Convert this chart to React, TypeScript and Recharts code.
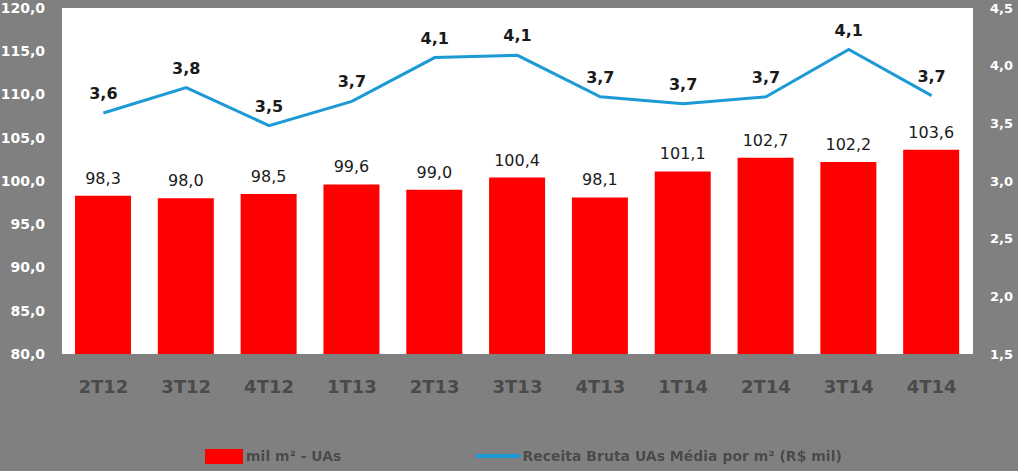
import React from "react";
import {
  ComposedChart,
  Bar,
  Line,
  XAxis,
  YAxis,
  CartesianGrid,
  Legend,
  LabelList,
} from "recharts";

const quarters = ["2T12", "3T12", "4T12", "1T13", "2T13", "3T13", "4T13", "1T14", "2T14", "3T14", "4T14"];
const areaUAs = [98.3, 98.0, 98.5, 99.6, 99.0, 100.4, 98.1, 101.1, 102.7, 102.2, 103.6];
const receitaMedia = [3.59, 3.81, 3.48, 3.69, 4.07, 4.09, 3.73, 3.67, 3.73, 4.14, 3.74];
const leftTicks = [80, 85, 90, 95, 100, 105, 110, 115, 120];
const rightTicks = [1.5, 2.0, 2.5, 3.0, 3.5, 4.0, 4.5];

const data = quarters.map((q, i) => ({
  q,
  area: areaUAs[i],
  receita: receitaMedia[i],
}));

const fmt = (v: any) => Number(v).toFixed(1).replace(".", ",");

const FONT = "'DejaVu Sans', Verdana, sans-serif";

function LegendBox() {
  const txt: React.CSSProperties = {
    fontFamily: FONT,
    fontWeight: "bold",
    fontSize: 14,
    color: "#4a4a4a",
  };
  return (
    <div style={{ display: "flex", alignItems: "center", justifyContent: "flex-start" }}>
      <span style={{ marginLeft: 205, width: 38, height: 15, background: "#ff0000", display: "inline-block" }} />
      <span style={{ ...txt, marginLeft: 3 }}>mil m² - UAs</span>
      <span style={{ marginLeft: 135, width: 44, height: 4, background: "#1b9ad6", display: "inline-block" }} />
      <span style={{ ...txt, marginLeft: 2 }}>Receita Bruta UAs Média por m² (R$ mil)</span>
    </div>
  );
}

export default function App() {
  return (
    <div style={{ position: "fixed", left: 0, top: 0, width: 1018, height: 471, background: "#808080" }}>
      <ComposedChart
        width={1018}
        height={471}
        data={data}
        margin={{ top: 8, right: 0, bottom: 0, left: 0 }}
        barSize={56}
      >
        <CartesianGrid fill="#ffffff" stroke="none" vertical={false} horizontal={false} />
        <XAxis
          dataKey="q"
          axisLine={false}
          tickLine={false}
          height={67}
          tickMargin={20}
          tick={{ fill: "#4a4a4a", fontSize: 18, fontWeight: "bold", fontFamily: FONT }}
        />
        <YAxis
          yAxisId="left"
          domain={[80, 120]}
          ticks={leftTicks}
          width={62}
          axisLine={false}
          tickLine={false}
          tickMargin={11}
          tickFormatter={fmt}
          tick={{ fill: "#ffffff", fontSize: 14, fontWeight: "bold", fontFamily: FONT }}
        />
        <YAxis
          yAxisId="right"
          orientation="right"
          domain={[1.5, 4.5]}
          ticks={rightTicks}
          width={45}
          axisLine={false}
          tickLine={false}
          tickMargin={11}
          tickFormatter={fmt}
          tick={{ fill: "#ffffff", fontSize: 13, fontWeight: "bold", fontFamily: FONT }}
        />
        <Legend
          verticalAlign="bottom"
          height={50}
          content={() => <LegendBox />}
          wrapperStyle={{ left: 0, top: 448, bottom: "auto", width: 1018 }}
        />
        <Bar yAxisId="left" dataKey="area" fill="#ff0000" isAnimationActive={false}>
          <LabelList
            dataKey="area"
            position="top"
            offset={12}
            formatter={fmt}
            style={{ fill: "#1a1a1a", fontSize: 16, fontFamily: FONT }}
          />
        </Bar>
        <Line
          yAxisId="right"
          dataKey="receita"
          stroke="#1b9ad6"
          strokeWidth={3}
          dot={false}
          isAnimationActive={false}
        >
          <LabelList
            dataKey="receita"
            position="top"
            offset={14}
            formatter={fmt}
            style={{ fill: "#1a1a1a", fontSize: 16, fontWeight: "bold", fontFamily: FONT }}
          />
        </Line>
      </ComposedChart>
    </div>
  );
}
